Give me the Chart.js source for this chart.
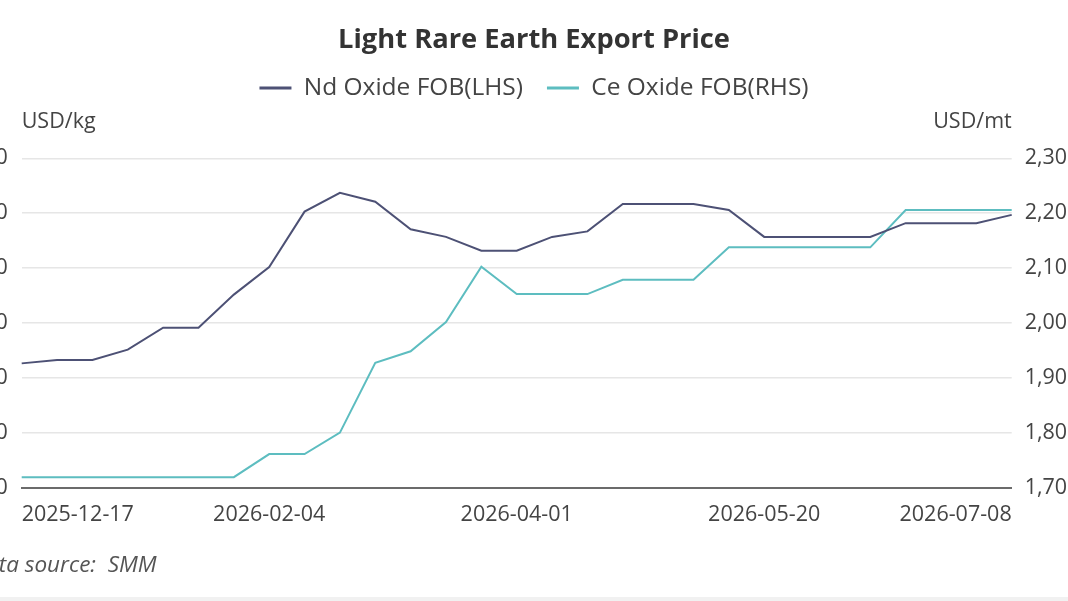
<!DOCTYPE html>
<html>
<head>
<meta charset="utf-8">
<script src="https://cdn.jsdelivr.net/npm/chart.js@4.4.1/dist/chart.umd.min.js"></script>
<style>
    html, body { margin: 0; padding: 0; background: #fff; overflow: hidden; }
    body { width: 1068px; height: 601px; position: relative; }
    #wrap { position: absolute; left: -60px; top: 0; width: 1188px; height: 601px; }
    #fonte {
        position: absolute; left: -29px; top: 548px;
        font: italic 22.5px "Open Sans", sans-serif; color: #555; white-space: pre;
    }
    #rodape { position: absolute; left: 0; right: 0; bottom: 0; height: 4px; background: #f1f1f1; }
</style>
</head>
<body>
<div id="wrap"><canvas id="chartPreco"></canvas></div>
<div id="fonte">Data source:  SMM</div>
<div id="rodape"></div>
<script>
// ============= DADOS =============
const datas = [
    '2025-12-17','2025-12-24','2025-12-31','2026-01-07','2026-01-14','2026-01-21','2026-01-28',
    '2026-02-04','2026-02-11','2026-02-25','2026-03-04','2026-03-11','2026-03-18','2026-03-25',
    '2026-04-01','2026-04-08','2026-04-15','2026-04-22','2026-04-29','2026-05-06','2026-05-13',
    '2026-05-20','2026-05-27','2026-06-03','2026-06-10','2026-06-17','2026-06-24','2026-07-01',
    '2026-07-08'
];
const ndOxido = [
    82.7, 83.3, 83.3, 85.2, 89.2, 89.2, 95.2,
    100.2, 110.3, 113.7, 112.1, 107.1, 105.7, 103.2,
    103.2, 105.7, 106.7, 111.7, 111.7, 111.7, 110.6,
    105.7, 105.7, 105.7, 105.7, 108.2, 108.2, 108.2,
    109.7
];
const ceOxido = [
    1720, 1720, 1720, 1720, 1720, 1720, 1720,
    1762, 1762, 1801, 1928, 1949, 2002, 2103,
    2053, 2053, 2053, 2079, 2079, 2079, 2138,
    2138, 2138, 2138, 2138, 2206, 2206, 2206,
    2206
];
const nomesSeries = ['Nd Oxide FOB(LHS)', 'Ce Oxide FOB(RHS)'];
const unidades = ['USD/kg', 'USD/mt'];

// ============= CORES =============
const CORES = {
    nd: '#4d5175',
    ce: '#5dbdc0',
    grade: '#e6e6e6',
    eixo: '#6b6b6b',
    texto: '#444'
};
const FONTE = '"Open Sans", sans-serif';

// titulos das unidades em cima dos eixos
const unidadesPlugin = {
    id: 'unidades',
    afterDraw(chart) {
        const { ctx, chartArea } = chart;
        ctx.save();
        ctx.font = '21.5px ' + FONTE;
        ctx.fillStyle = CORES.texto;
        ctx.textBaseline = 'middle';
        ctx.textAlign = 'left';
        ctx.fillText(unidades[0], chartArea.left, 122);
        ctx.textAlign = 'right';
        ctx.fillText(unidades[1], chartArea.right, 122);
        ctx.restore();
    }
};

// espaco extra por baixo da legenda
const legendaPlugin = {
    id: 'legendaEspaco',
    beforeInit(chart) {
        const fitOrig = chart.legend.fit;
        chart.legend.fit = function () {
            fitOrig.call(this);
            this.height += 48;
        };
    }
};

new Chart(document.getElementById('chartPreco'), {
    type: 'line',
    data: {
        labels: datas,
        datasets: [{
            label: nomesSeries[0],
            data: ndOxido,
            yAxisID: 'y',
            borderColor: CORES.nd,
            backgroundColor: CORES.nd,
            borderWidth: 2,
            pointRadius: 0,
            tension: 0
        }, {
            label: nomesSeries[1],
            data: ceOxido,
            yAxisID: 'y1',
            borderColor: CORES.ce,
            backgroundColor: CORES.ce,
            borderWidth: 2,
            pointRadius: 0,
            tension: 0
        }]
    },
    options: {
        responsive: true,
        maintainAspectRatio: false,
        animation: false,
        layout: { padding: { left: 0, right: 0, top: 24, bottom: 67 } },
        plugins: {
            title: {
                display: true,
                text: 'Light Rare Earth Export Price',
                color: '#333',
                font: { family: FONTE, size: 27.3, weight: 'bold' },
                padding: { top: 0, bottom: -5 }
            },
            legend: {
                position: 'top',
                labels: {
                    color: CORES.texto,
                    font: { family: FONTE, size: 24.5 },
                    boxWidth: 32,
                    boxHeight: 3,
                    padding: 24,
                    generateLabels(chart) {
                        return chart.data.datasets.map((ds, i) => ({
                            text: ds.label,
                            fillStyle: ds.borderColor,
                            strokeStyle: ds.borderColor,
                            lineWidth: 0,
                            fontColor: CORES.texto,
                            datasetIndex: i
                        }));
                    }
                }
            },
            tooltip: { enabled: false }
        },
        scales: {
            x: {
                grid: { display: false },
                border: { color: CORES.eixo, width: 2 },
                ticks: {
                    color: CORES.texto,
                    font: { family: FONTE, size: 21.5 },
                    autoSkip: false,
                    maxRotation: 0,
                    align: 'inner',
                    padding: 6,
                    callback: (v, i) => (i % 7 === 0 ? datas[i] : '')
                }
            },
            y: {
                position: 'left',
                min: 60,
                max: 120,
                afterFit: (s) => { s.width = 81.7; },
                grid: { color: CORES.grade, lineWidth: 1.5, drawTicks: false },
                border: { display: false },
                ticks: {
                    stepSize: 10,
                    color: CORES.texto,
                    font: { family: FONTE, size: 21.5 },
                    padding: 14
                }
            },
            y1: {
                position: 'right',
                min: 1700,
                max: 2300,
                afterFit: (s) => { s.width = 116.3; },
                grid: { drawOnChartArea: false, drawTicks: false },
                border: { display: false },
                ticks: {
                    stepSize: 100,
                    color: CORES.texto,
                    font: { family: FONTE, size: 21.5 },
                    padding: 13
                }
            }
        }
    },
    plugins: [unidadesPlugin, legendaPlugin]
});
</script>
</body>
</html>
